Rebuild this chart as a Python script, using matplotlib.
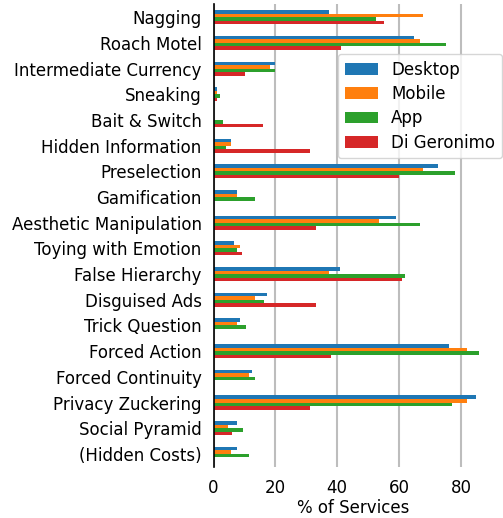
import matplotlib
matplotlib.use("Agg")
import matplotlib.pyplot as plt
import numpy as np

categories = ["Nagging", "Roach Motel", "Intermediate Currency", "Sneaking",
              "Bait & Switch", "Hidden Information", "Preselection", "Gamification",
              "Aesthetic Manipulation", "Toying with Emotion", "False Hierarchy",
              "Disguised Ads", "Trick Question", "Forced Action", "Forced Continuity",
              "Privacy Zuckering", "Social Pyramid", "(Hidden Costs)"]

desktop = [37.3, 64.8, 19.8, 1.1, 0, 5.6, 72.6, 7.5, 59.0, 6.6, 40.9, 17.3, 8.5, 76.1, 12.4, 84.9, 7.5, 7.5]
mobile = [67.7, 66.7, 18.2, 1.1, 0, 5.6, 67.7, 7.5, 53.5, 8.5, 37.3, 13.4, 7.5, 81.9, 11.4, 81.9, 4.6, 5.6]
app = [52.5, 75.1, 19.8, 2.0, 3.0, 4.0, 78.1, 13.4, 66.7, 7.5, 61.9, 16.3, 10.5, 85.8, 13.4, 77.1, 9.5, 11.4]
di_geronimo = [55.1, 41.2, 10.1, 1.1, 16.0, 31.2, 60.0, 0, 33.1, 9.2, 60.9, 33.1, 0, 38.0, 0, 31.2, 5.9, 0]

series = [("Desktop", desktop, "#1f77b4"), ("Mobile", mobile, "#ff7f0e"),
          ("App", app, "#2ca02c"), ("Di Geronimo", di_geronimo, "#d62728")]

fig = plt.figure(figsize=(5.03, 5.18), dpi=100)
ax = fig.add_axes([0.4245, 0.099, 0.554, 0.8925])

y = np.arange(len(categories))
h = 0.55 / 4
for i, (name, vals, col) in enumerate(series):
    ax.barh(y - 0.275 + h * (i + 0.5), vals, height=h, color=col, label=name, zorder=3)

ax.set_ylim(len(categories) - 0.5, -0.5)
ax.set_yticks(y)
ax.set_yticklabels(categories, fontsize=12)
ax.set_xticks([0, 20, 40, 60, 80])
ax.tick_params(axis="both", length=0, labelsize=12)
ax.tick_params(axis="y", pad=8.5)
ax.tick_params(axis="x", pad=9)
ax.set_xlabel("% of Services", fontsize=12, labelpad=1)
ax.grid(axis="x", color="#bdbdbd", linewidth=1.5, zorder=0)
for s in ["top", "right", "bottom"]:
    ax.spines[s].set_visible(False)
ax.spines["left"].set_color("black")
ax.spines["left"].set_linewidth(1.2)
ax.spines["left"].set_zorder(4)

leg = ax.legend(loc="upper right", bbox_to_anchor=(502 / 503, 1 - 54 / 518),
                bbox_transform=fig.transFigure, borderaxespad=0, labelspacing=0.38,
                fontsize=12, framealpha=0.8, edgecolor="#cccccc", fancybox=True)
leg.set_zorder(5)

fig.savefig("out.png", dpi=100)
